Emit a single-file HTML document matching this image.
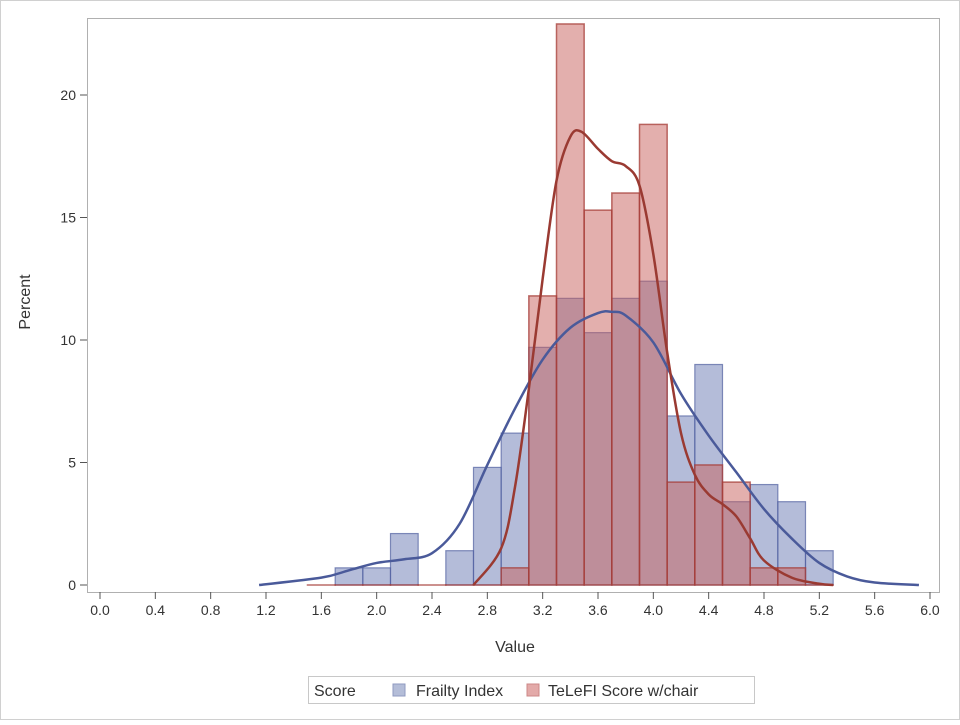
<!DOCTYPE html>
<html><head><meta charset="utf-8"><style>
body{margin:0;background:#fff;font-family:"Liberation Sans",sans-serif}
svg text{font-family:"Liberation Sans",sans-serif;fill:#333}
</style></head><body>
<svg id="c" width="960" height="720">
<rect x="0.5" y="0.5" width="959" height="719" fill="#fff" stroke="#d0d0d0"/>
<rect x="87.5" y="18.5" width="852" height="574" fill="none" stroke="#b0b0b0"/>
<g id="bars"></g><g id="curves"></g><g id="axes"></g>
<text x="30" y="302" font-size="16" text-anchor="middle" transform="rotate(-90 30 302)">Percent</text>
<text x="515" y="652" font-size="16" text-anchor="middle">Value</text>
<g>
<rect x="308.5" y="676.5" width="446" height="27" fill="#fff" stroke="#c8c8c8"/>
<text x="314" y="696" font-size="16">Score</text>
<rect x="393" y="684" width="12" height="12" fill="#b4bdd8" stroke="#8f9ac0"/>
<text x="416" y="696" font-size="16">Frailty Index</text>
<rect x="527" y="684" width="12" height="12" fill="#e3aaa9" stroke="#c88"/>
<text x="548" y="696" font-size="16">TeLeFI Score w/chair</text>
</g>
</svg>
<script>
const binCenters=[1.6,1.8,2.0,2.2,2.4,2.6,2.8,3.0,3.2,3.4,3.6,3.8,4.0,4.2,4.4,4.6,4.8,5.0,5.2];
const frailtyPct=[null,0.7,0.7,2.1,0,1.4,4.8,6.2,9.7,11.7,10.3,11.7,12.4,6.9,9.0,3.4,4.1,3.4,1.4];
const telefiPct=[0,0,0,0,0,0,0,0.7,11.8,22.9,15.3,16.0,18.8,4.2,4.9,4.2,0.7,0.7,0];
const frailtyDensX=[1.15,1.6,1.8,2.0,2.2,2.4,2.6,2.8,3.0,3.2,3.4,3.6,3.7,3.8,4.0,4.2,4.4,4.6,4.8,5.0,5.2,5.4,5.6,5.92];
const frailtyDensY=[0,0.3,0.6,0.9,1.05,1.3,2.5,4.9,7.2,9.2,10.5,11.1,11.15,11.0,9.9,7.8,6.1,4.6,3.1,1.9,0.9,0.35,0.1,0];
const telefiDensX=[2.7,2.9,3.0,3.1,3.2,3.3,3.4,3.48,3.6,3.7,3.8,3.9,4.0,4.1,4.2,4.3,4.4,4.5,4.6,4.7,4.8,5.0,5.2,5.3];
const telefiDensY=[0,1.5,4,8,12.5,16.5,18.3,18.5,17.8,17.3,17.1,16.3,13.5,9.5,6.2,4.5,3.7,3.3,2.8,1.9,1.0,0.3,0.05,0];
const xTicks=[0,0.4,0.8,1.2,1.6,2.0,2.4,2.8,3.2,3.6,4.0,4.4,4.8,5.2,5.6,6.0];
const yTicks=[0,5,10,15,20];
const X=v=>100+v*138.333, Y=v=>585-v*24.5;
const NS="http://www.w3.org/2000/svg";
function mk(t,a,p){const e=document.createElementNS(NS,t);for(const k in a)e.setAttribute(k,a[k]);p.appendChild(e);return e;}
const bars=document.getElementById('bars');
binCenters.forEach((c,i)=>{
  const v=frailtyPct[i]; if(v===null)return;
  const r=mk('rect',{x:X(c-0.1),y:Y(v),width:X(c+0.1)-X(c-0.1),height:Y(0)-Y(v),fill:'rgba(105,122,180,0.5)',stroke:'rgba(80,95,160,0.7)','stroke-width':1.2},bars);
  
  
});
binCenters.forEach((c,i)=>{
  const v=telefiPct[i];
  const r=mk('rect',{x:X(c-0.1),y:Y(v),width:X(c+0.1)-X(c-0.1),height:Y(0)-Y(v)+0.01,fill:'rgba(200,95,92,0.5)',stroke:'rgba(165,60,55,0.75)','stroke-width':1.5},bars);
  
  
});
function smooth(xs,ys){const p=xs.map((x,i)=>[X(x),Y(ys[i])]);let d='M'+p[0];
 for(let i=0;i<p.length-1;i++){const p0=p[i-1]||p[i],p1=p[i],p2=p[i+1],p3=p[i+2]||p2;
  d+=`C${p1[0]+(p2[0]-p0[0])/6},${p1[1]+(p2[1]-p0[1])/6} ${p2[0]-(p3[0]-p1[0])/6},${p2[1]-(p3[1]-p1[1])/6} ${p2[0]},${p2[1]}`;}
 return d;}
const cv=document.getElementById('curves');
let l=mk('path',{d:smooth(frailtyDensX,frailtyDensY),fill:'none',stroke:'#4a5a9a','stroke-width':2.5},cv);


l=mk('path',{d:smooth(telefiDensX,telefiDensY),fill:'none',stroke:'#9a3a32','stroke-width':2.5},cv);


const ax=document.getElementById('axes');
xTicks.forEach(t=>{mk('line',{x1:X(t),x2:X(t),y1:592,y2:599,stroke:'#555'},ax);
 const tx=mk('text',{x:X(t),y:615,'font-size':14,'text-anchor':'middle'},ax);tx.textContent=t.toFixed(1);
 
 });
yTicks.forEach(t=>{mk('line',{x1:80,x2:87,y1:Y(t),y2:Y(t),stroke:'#555'},ax);
 const tx=mk('text',{x:76,y:Y(t)+5,'font-size':14,'text-anchor':'end'},ax);tx.textContent=t;
 
 });
</script>
</body></html>
